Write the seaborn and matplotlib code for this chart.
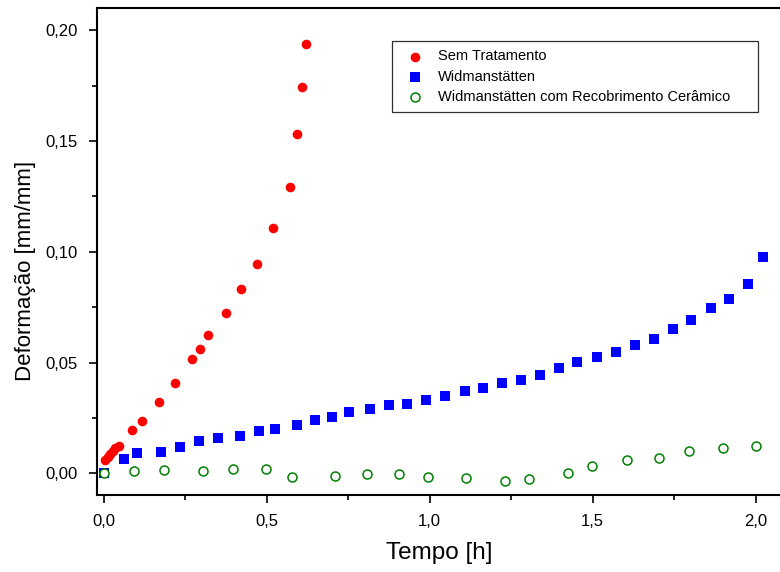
import numpy as np
import matplotlib
matplotlib.use("Agg")
import matplotlib.pyplot as plt
from matplotlib.ticker import MultipleLocator, FixedLocator, FixedFormatter
import seaborn as sns

# Sem Tratamento
sem_t = [0.005, 0.012, 0.020, 0.028, 0.036, 0.046, 0.087, 0.117, 0.169, 0.220,
         0.270, 0.294, 0.321, 0.375, 0.421, 0.470, 0.520, 0.570, 0.594, 0.607, 0.620]
sem_d = [0.0060, 0.0072, 0.0085, 0.0100, 0.0112, 0.0122, 0.0196, 0.0235, 0.0322, 0.0406,
         0.0516, 0.0559, 0.0624, 0.0725, 0.0832, 0.0946, 0.1108, 0.1292, 0.1532, 0.1742, 0.1938]

# Widmanstätten
wid_t = [0.0, 0.062, 0.103, 0.175, 0.233, 0.292, 0.351, 0.417, 0.476, 0.524,
         0.592, 0.648, 0.699, 0.754, 0.818, 0.874, 0.932, 0.990, 1.048, 1.107,
         1.165, 1.223, 1.280, 1.339, 1.397, 1.451, 1.513, 1.571, 1.629, 1.688,
         1.746, 1.803, 1.862, 1.919, 1.978, 2.024]
wid_d = [0.0, 0.0066, 0.0093, 0.0098, 0.0120, 0.0147, 0.0159, 0.0168, 0.0192, 0.0201,
         0.0216, 0.0239, 0.0255, 0.0275, 0.0291, 0.0306, 0.0314, 0.0330, 0.0351, 0.0371,
         0.0386, 0.0409, 0.0422, 0.0445, 0.0474, 0.0503, 0.0526, 0.0548, 0.0580, 0.0604,
         0.0649, 0.0694, 0.0746, 0.0788, 0.0856, 0.0976]

# Widmanstätten com Recobrimento Cerâmico
rec_t = [0.0, 0.094, 0.184, 0.306, 0.396, 0.497, 0.579, 0.711, 0.809, 0.906,
         0.994, 1.110, 1.231, 1.305, 1.423, 1.497, 1.606, 1.705, 1.795, 1.900, 2.001]
rec_d = [0.0, 0.0009, 0.0014, 0.0010, 0.0019, 0.0021, -0.0015, -0.0014, -0.0001, -0.0005,
         -0.0015, -0.0021, -0.0037, -0.0027, 0.0003, 0.0033, 0.0059, 0.0068, 0.0099, 0.0113, 0.0122]

xticks = [0.0, 0.5, 1.0, 1.5, 2.0]
xtick_labels = ["0,0", "0,5", "1,0", "1,5", "2,0"]
yticks = [0.0, 0.05, 0.10, 0.15, 0.20]
ytick_labels = ["0,00", "0,05", "0,10", "0,15", "0,20"]

sns.set_style("ticks")
plt.rcParams['font.family'] = ['Liberation Sans', 'DejaVu Sans']
plt.rcParams['text.color'] = 'black'

fig = plt.figure(figsize=(7.8, 5.72), dpi=100)
W, H = 780, 572
ax = fig.add_axes([97 / W, (H - 495) / H, (782 - 97) / W, (495 - 8) / H])

sns.scatterplot(x=sem_t, y=sem_d, ax=ax, color="#ff0000", marker="o", s=48,
                edgecolor="#ff0000", linewidth=0, label="Sem Tratamento", zorder=3)
sns.scatterplot(x=wid_t, y=wid_d, ax=ax, color="#0000ff", marker="s", s=45,
                edgecolor="#0000ff", linewidth=0, label="Widmanstätten", zorder=3)
sns.scatterplot(x=rec_t, y=rec_d, ax=ax, color="white", marker="o", s=42,
                edgecolor="#008000", linewidth=1.1,
                label="Widmanstätten com Recobrimento Cerâmico", zorder=4)

ax.set_xlim(-0.0206, 2.081)
ax.set_ylim(-0.0098, 0.2100)

ax.xaxis.set_major_locator(FixedLocator(xticks))
ax.xaxis.set_major_formatter(FixedFormatter(xtick_labels))
ax.xaxis.set_minor_locator(MultipleLocator(0.25))
ax.yaxis.set_major_locator(FixedLocator(yticks))
ax.yaxis.set_major_formatter(FixedFormatter(ytick_labels))
ax.yaxis.set_minor_locator(MultipleLocator(0.025))

ax.tick_params(which="major", length=6, width=1.2, labelsize=12,
               color="black", labelcolor="black")
ax.tick_params(which="minor", length=3.5, width=1.2, color="black")
ax.tick_params(axis="x", which="major", pad=8)
ax.tick_params(axis="y", which="major", pad=8)
for sp in ax.spines.values():
    sp.set_linewidth(1.5)
    sp.set_color("black")
    sp.set_visible(True)

ax.set_xlabel("Tempo [h]", fontsize=17.5, labelpad=9, color="black")
ax.set_ylabel("Deformação [mm/mm]", fontsize=16, color="black")
ax.yaxis.set_label_coords(-0.089, 0.46)

leg = ax.legend(loc="upper left", mode="expand", borderaxespad=0,
                bbox_to_anchor=(392 / W, 1 - 109 / H, 366 / W, 68 / H),
                bbox_transform=fig.transFigure, fontsize=10.5,
                frameon=True, fancybox=False, shadow=False, framealpha=1,
                borderpad=0.58, labelspacing=0.42, handlelength=2.0,
                handletextpad=0.55)
leg.get_frame().set_edgecolor("#303030")
leg.get_frame().set_linewidth(0.9)
for t in leg.get_texts():
    t.set_color("black")

fig.savefig("out.png", dpi=100)
